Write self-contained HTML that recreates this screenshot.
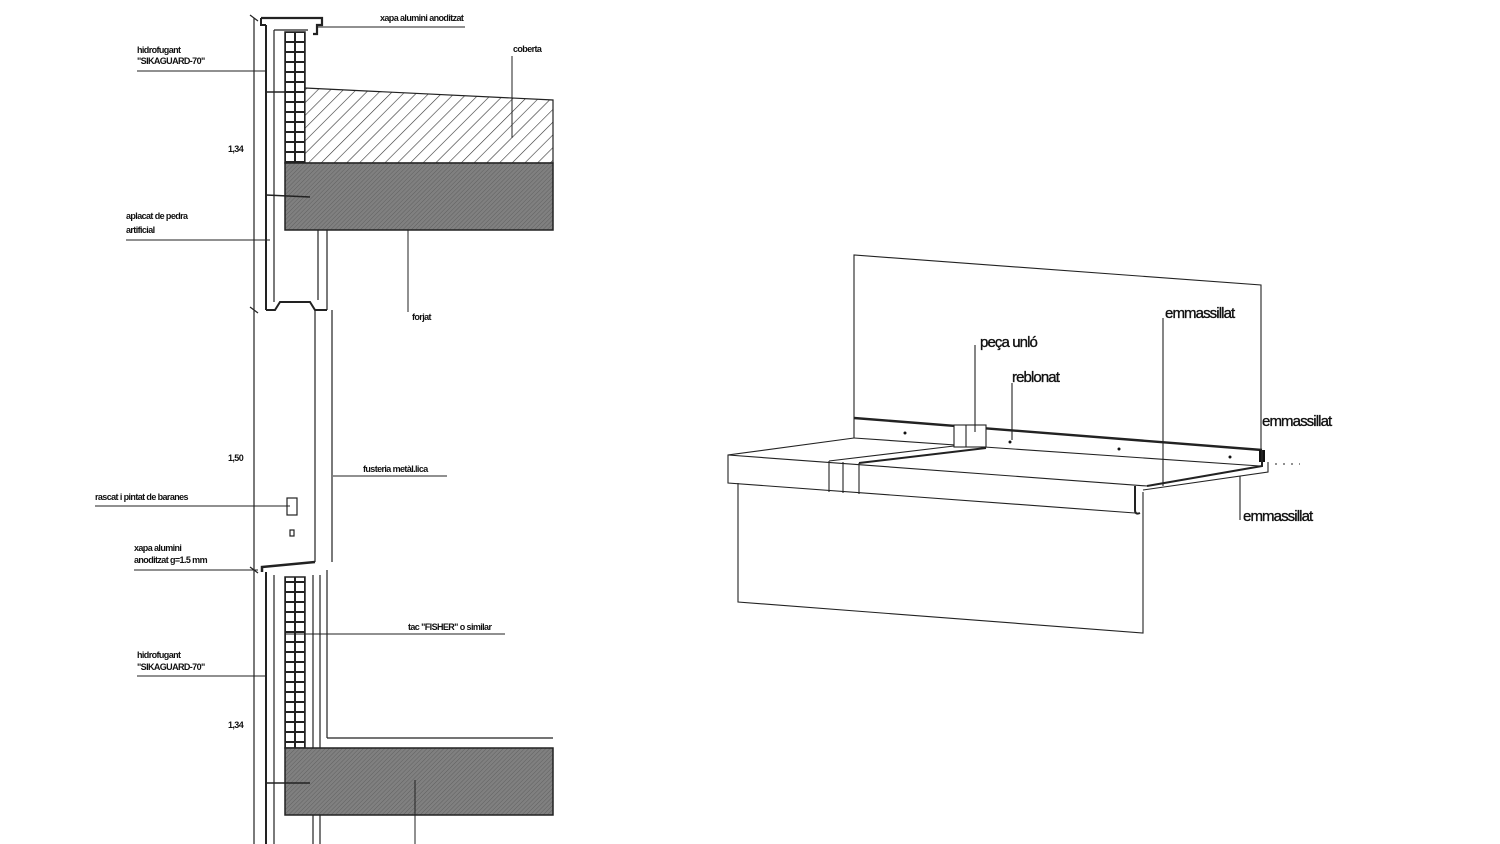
<!DOCTYPE html>
<html><head><meta charset="utf-8"><style>
html,body{margin:0;padding:0;background:#fff;}
svg{display:block}
.s{font-family:"Liberation Sans",sans-serif;font-size:9px;font-weight:bold;fill:#111;letter-spacing:-0.6px}
.r{font-family:"Liberation Sans",sans-serif;font-size:15px;fill:#111;stroke:#111;stroke-width:0.35;letter-spacing:-0.9px}
</style></head><body>
<svg width="1500" height="844" viewBox="0 0 1500 844" xmlns="http://www.w3.org/2000/svg">
<defs>
<pattern id="h1" width="9" height="9" patternUnits="userSpaceOnUse" patternTransform="rotate(45)">
<rect width="9" height="9" fill="#fff"/><line x1="0" y1="0" x2="0" y2="9" stroke="#333" stroke-width="1.2"/></pattern>
<pattern id="h2" width="3" height="3" patternUnits="userSpaceOnUse" patternTransform="rotate(45)">
<rect width="3" height="3" fill="#808080"/><line x1="0" y1="0" x2="0" y2="3" stroke="#606060" stroke-width="1"/></pattern>
<pattern id="br" width="10" height="10" patternUnits="userSpaceOnUse" x="285" y="32">
<rect width="10" height="10" fill="#fff" stroke="#222" stroke-width="2"/></pattern>
</defs>
<g stroke="#222" fill="none" stroke-width="1.2">
<line x1="254" y1="18" x2="254" y2="844"/>
<line x1="250" y1="15" x2="258" y2="21"/><line x1="250" y1="307" x2="258" y2="313"/><line x1="250" y1="567" x2="258" y2="573"/>
<path d="M261,18 H322 V25 H317 V34 H313" stroke-width="2.2"/>
<path d="M261,18 V25 H266" stroke-width="2"/>
<line x1="266" y1="25" x2="266" y2="310" stroke-width="2"/>
<line x1="274" y1="30" x2="274" y2="302"/>
<path d="M274,30 H308"/>
<rect x="285" y="32" width="20" height="131" fill="url(#br)" stroke-width="1.5"/>
<line x1="295" y1="32" x2="295" y2="163" stroke-width="1.5"/>
<polygon points="305,88 553,100 553,163 305,163" fill="url(#h1)"/>
<rect x="285" y="163" width="268" height="67" fill="url(#h2)" stroke-width="1.5"/>
<line x1="318" y1="230" x2="318" y2="300"/><line x1="327" y1="230" x2="327" y2="310"/>
<path d="M266,310 H275 L280,302 H310 L315,310 H327" stroke-width="2"/>
<line x1="266" y1="92" x2="305" y2="92" stroke-width="1.6"/>
<line x1="266" y1="195" x2="310" y2="197" stroke-width="1.6"/>
<line x1="315" y1="310" x2="315" y2="562"/><line x1="332" y1="310" x2="332" y2="562"/>
<rect x="287" y="498" width="10" height="17"/><rect x="290" y="530" width="4" height="6"/>
<path d="M262,572 L262,567 L315,562" stroke-width="2.5"/>
<line x1="266" y1="572" x2="266" y2="844" stroke-width="2"/>
<line x1="274" y1="575" x2="274" y2="844"/>
<rect x="285" y="577" width="20" height="171" fill="url(#br)" stroke-width="1.5"/>
<line x1="295" y1="577" x2="295" y2="748" stroke-width="1.5"/>
<line x1="313" y1="575" x2="313" y2="748"/><line x1="320" y1="575" x2="320" y2="844"/><line x1="327" y1="570" x2="327" y2="738"/>
<line x1="327" y1="738" x2="553" y2="738"/>
<rect x="285" y="748" width="268" height="67" fill="url(#h2)" stroke-width="1.5"/>
<line x1="313" y1="815" x2="313" y2="844"/>
<line x1="266" y1="783" x2="310" y2="783" stroke-width="1.6"/>
<g stroke-width="1">
<line x1="318" y1="27" x2="465" y2="27"/>
<line x1="137" y1="71" x2="265" y2="71"/>
<line x1="512" y1="56" x2="512" y2="138"/>
<line x1="126" y1="240" x2="270" y2="240"/>
<line x1="408" y1="230" x2="408" y2="312"/>
<line x1="333" y1="476" x2="447" y2="476"/>
<line x1="95" y1="506" x2="290" y2="506"/>
<line x1="134" y1="570" x2="258" y2="570"/>
<line x1="285" y1="634" x2="505" y2="634"/>
<line x1="137" y1="676" x2="265" y2="676"/>
<line x1="415" y1="780" x2="415" y2="844"/>
</g>
</g>
<g class="s">
<text x="380" y="21">xapa alumini anoditzat</text>
<text x="137" y="53">hidrofugant</text><text x="137" y="64">"SIKAGUARD-70"</text>
<text x="513" y="52">coberta</text>
<text x="228" y="152">1,34</text><text x="228" y="461">1,50</text><text x="228" y="728">1,34</text>
<text x="126" y="219">aplacat de pedra</text><text x="126" y="233">artificial</text>
<text x="412" y="320">forjat</text>
<text x="363" y="472">fusteria metàl.lica</text>
<text x="95" y="500">rascat i pintat de baranes</text>
<text x="134" y="551">xapa alumini</text><text x="134" y="563">anoditzat g=1.5 mm</text>
<text x="408" y="630">tac "FISHER" o similar</text>
<text x="137" y="658">hidrofugant</text><text x="137" y="670">"SIKAGUARD-70"</text>
</g>
<g stroke="#222" fill="none" stroke-width="1.1">
<polyline points="854,438 854,255 1261,285 1261,452"/>
<line x1="854" y1="418" x2="1262" y2="450" stroke-width="2.4"/>
<rect x="1259" y="450" width="6" height="12" fill="#111" stroke="none"/>
<polyline points="854,438 728,455 728,483 1135,513"/>
<line x1="728" y1="455" x2="1147" y2="486"/>
<line x1="854" y1="438" x2="1260" y2="466"/>
<path d="M1135,486 V510 Q1135,515 1140,513" stroke-width="2"/>
<path d="M1147,486 L1262,466 L1262,450" stroke-width="2"/>
<path d="M1143,490 L1268,472 L1268,462"/>
<line x1="1275" y1="464" x2="1300" y2="464" stroke-dasharray="2,6"/>
<polyline points="738,483 738,602 1143,633 1143,492"/>
<line x1="829" y1="461" x2="829" y2="492"/><line x1="843" y1="462" x2="843" y2="493"/><line x1="859" y1="463" x2="859" y2="494"/>
<line x1="829" y1="461" x2="954" y2="446"/><line x1="859" y1="463" x2="986" y2="448" stroke-width="2"/>
<rect x="954" y="425" width="32" height="22" fill="#fff"/>
<line x1="966" y1="425" x2="966" y2="447"/>
<line x1="975" y1="345" x2="975" y2="432"/>
<line x1="1012" y1="383" x2="1012" y2="440"/>
<line x1="1163" y1="318" x2="1163" y2="486"/>
<line x1="1240" y1="476" x2="1240" y2="520"/>
</g>
<g fill="#111"><circle cx="905" cy="433" r="1.5"/><circle cx="1010" cy="442" r="1.5"/><circle cx="1119" cy="449" r="1.5"/><circle cx="1230" cy="457" r="1.5"/></g>
<g class="r">
<text x="980" y="347">peça unló</text>
<text x="1012" y="382">reblonat</text>
<text x="1165" y="318">emmassillat</text>
<text x="1262" y="426">emmassillat</text>
<text x="1243" y="521">emmassillat</text>
</g>
</svg>
</body></html>
